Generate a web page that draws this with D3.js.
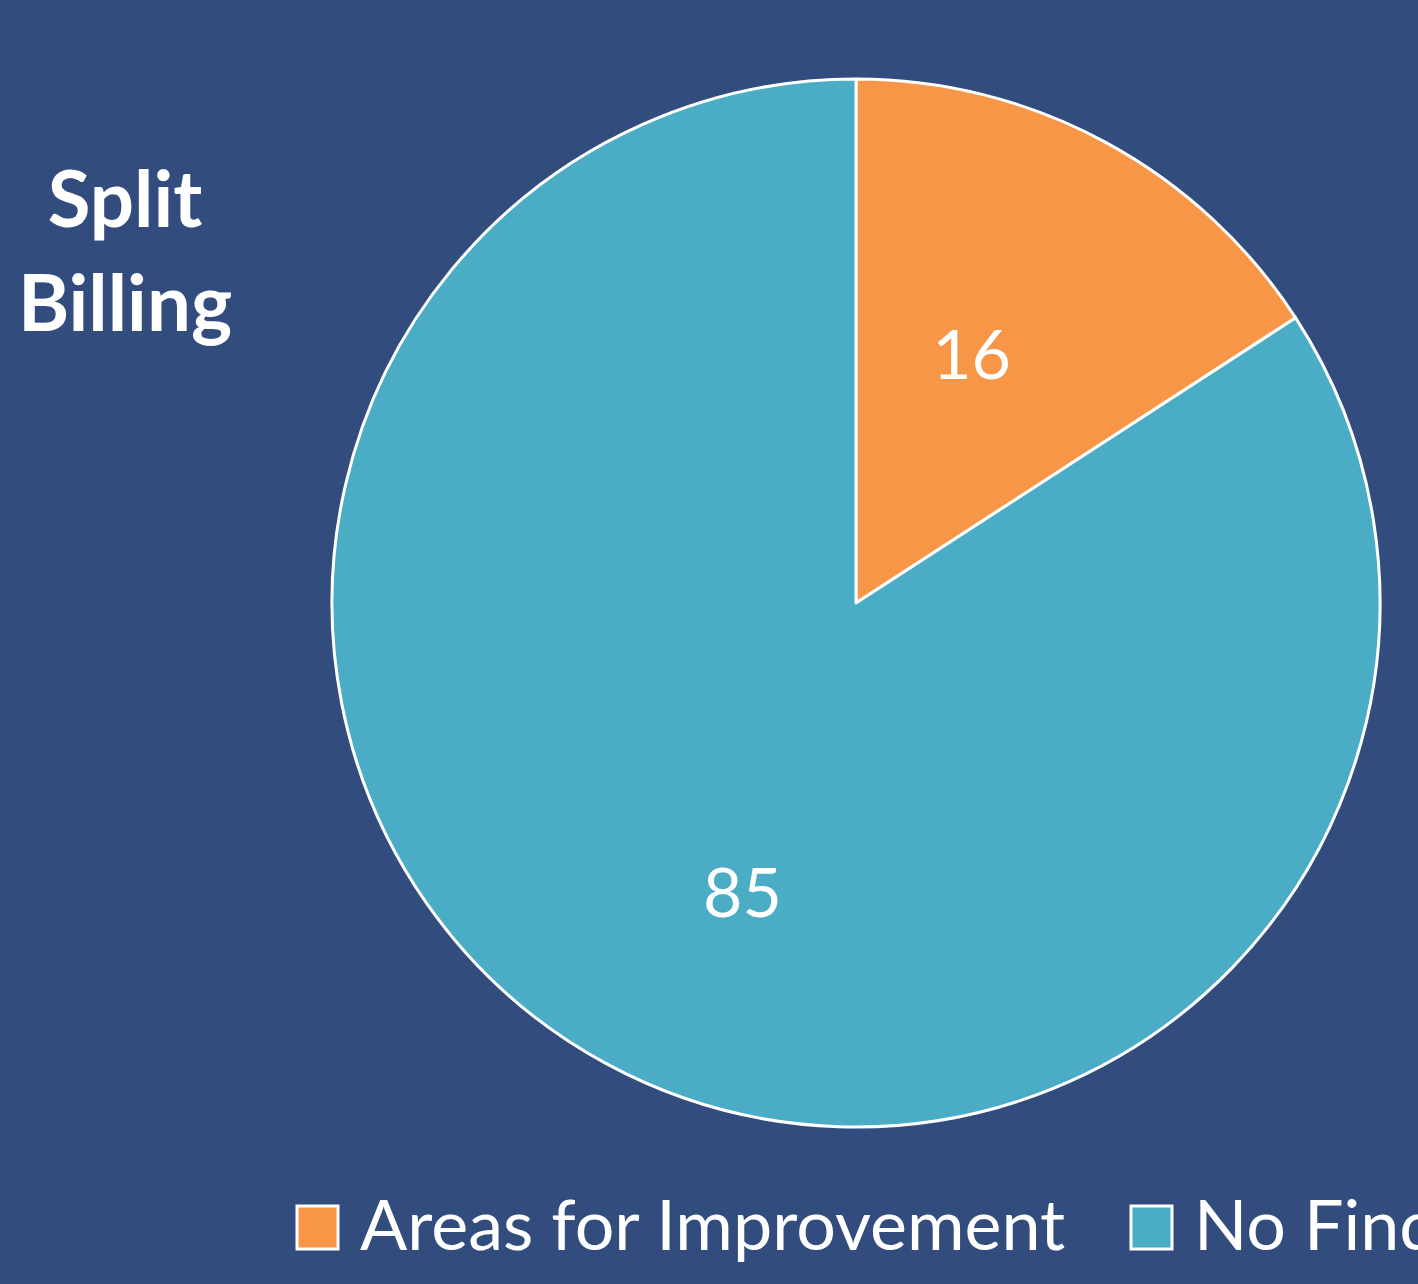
<!DOCTYPE html>
<html>
<head>
<meta charset="utf-8">
<script src="https://cdn.jsdelivr.net/npm/d3@7"></script>
<style>
  html, body { margin: 0; padding: 0; background: #334c7e; overflow: hidden; }
  svg { display: block; }
</style>
</head>
<body>
<div id="chart"></div>
<script>
// data
const categories = ["Areas for Improvement", "No Findings"];
const values = [16, 85];
const colors = ["#f79646", "#4bacc6"];
const titleLines = ["Split", "Billing"];

const width = 1418;
const height = 1284;
const cx = 856, cy = 603, radius = 524;
const font = "Lato, 'Open Sans', sans-serif";
// small nudges so the value labels sit where the original put them
const labelNudge = [[-22, 5], [24, 36]];

const svg = d3.select('#chart')
  .append('svg')
  .attr('width', width)
  .attr('height', height)

svg.append('rect')
  .attr('width', width)
  .attr('height', height)
  .attr('fill', '#334c7e')

// title on the left
svg.append('g')
  .selectAll('text')
  .data(titleLines)
  .join('text')
  .attr('x', 125)
  .attr('y', (d, i) => 227 + i * 104)
  .attr('text-anchor', 'middle')
  .attr('font-family', font)
  .attr('font-weight', 'bold')
  .attr('font-size', '78px')
  .attr('fill', 'white')
  .text(d => d)

const pie = d3.pie().sort(null).value(d => d)
const arcs = pie(values)

const arc = d3.arc().innerRadius(0).outerRadius(radius)
const labelArc = d3.arc().innerRadius(radius * 0.55).outerRadius(radius * 0.55)

const g = svg.append('g')
  .attr('transform', `translate(${cx}, ${cy})`)

g.selectAll('path')
  .data(arcs)
  .join('path')
  .attr('d', arc)
  .attr('fill', (d, i) => colors[i])
  .attr('stroke', 'white')
  .attr('stroke-width', 3)
  .attr('stroke-linejoin', 'round')

g.selectAll('text')
  .data(arcs)
  .join('text')
  .attr('transform', (d, i) => {
    const [x, y] = labelArc.centroid(d)
    return `translate(${x + labelNudge[i][0]}, ${y + labelNudge[i][1]})`
  })
  .attr('text-anchor', 'middle')
  .attr('dy', '0.36em')
  .attr('font-family', font)
  .attr('font-size', '68px')
  .attr('fill', 'white')
  .text(d => d.data)

// legend at the bottom (runs off the right edge like the original)
const legendX = [297, 1131];
const legend = svg.append('g')
  .selectAll('g')
  .data(categories)
  .join('g')
  .attr('transform', (d, i) => `translate(${legendX[i]}, 1206)`)

legend.append('rect')
  .attr('width', 41)
  .attr('height', 43)
  .attr('fill', (d, i) => colors[i])
  .attr('stroke', 'white')
  .attr('stroke-width', 3)

legend.append('text')
  .attr('x', 63)
  .attr('y', 44)
  .attr('font-family', font)
  .attr('font-size', '70px')
  .attr('fill', 'white')
  .text(d => d)
</script>
</body>
</html>
